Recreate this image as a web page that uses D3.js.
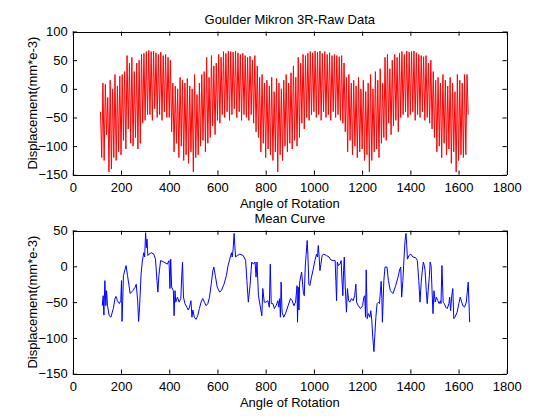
<!DOCTYPE html>
<html>
<head>
<meta charset="utf-8">
<script src="https://cdn.jsdelivr.net/npm/d3@7"></script>
<style>
html,body{margin:0;padding:0;background:#fff;}
svg{display:block;}
text{font-family:"Liberation Sans",Arial,Helvetica,sans-serif;font-size:13px;fill:#000;}
</style>
</head>
<body>
<svg id="fig" width="560" height="420"></svg>
<script>
// ---- Data ----
const xTicks = [0,200,400,600,800,1000,1200,1400,1600,1800];
const yTicksTop = [-150,-100,-50,0,50,100];
const yTicksBottom = [-150,-100,-50,0,50];

// Raw data: sampled every 5 degrees starting at 115
const rawStart = 115, rawStep = 5;
const rawValues = [
-40,-120,10,-125,8,-80,-15,-145,15,-140,0,-120,25,-125,5,-110,22,-115,25,-90,
30,-105,58,-70,45,-95,55,-100,30,-85,45,-105,50,-95,60,-60,62,-55,65,-45,
67,-45,65,-55,66,-35,63,-50,60,-45,64,-55,58,-40,60,-50,55,-50,50,-75,
10,-110,5,-95,0,-120,20,-100,15,-125,10,-115,18,-130,5,-110,0,-145,25,-120,
-10,-115,10,-100,25,-90,30,-110,55,-95,20,-85,58,-65,40,-80,45,-55,60,-60,
55,-45,65,-50,62,-40,66,-55,65,-45,64,-35,66,-50,63,-40,60,-55,62,-45,
58,-50,55,-55,57,-45,50,-60,58,-75,40,-85,20,-110,25,-95,10,-120,15,-105,
5,-115,20,-125,-5,-110,18,-145,10,-115,0,-125,15,-100,25,-110,10,-95,28,-105,
40,-90,20,-100,55,-85,45,-60,60,-70,58,-50,62,-55,65,-45,63,-40,66,-50,
64,-45,66,-55,62,-40,65,-50,60,-45,63,-55,58,-40,60,-50,58,-45,56,-55,
58,-60,45,-75,20,-110,25,-90,10,-115,15,-100,5,-120,20,-110,0,-105,15,-125,
-5,-115,10,-145,25,-125,0,-110,30,-105,15,-120,35,-95,10,-85,55,-90,60,-60,
35,-80,50,-65,60,-55,55,-75,62,-50,65,-45,60,-40,66,-50,64,-45,65,-40,
66,-55,63,-45,60,-50,58,-40,56,-55,58,-50,45,-60,50,-70,30,-85,15,-110,
20,-100,10,-120,25,-95,15,-115,5,-105,20,-130,10,-110,-5,-145,25,-125,15,-115,
10,-120,25,-115,25,-45
];

// Mean curve: angle / value pairs
const meanAngles = [
122,126,129,133,137,140,144,151,158,168,175,179,185,193,199,202,204,207,210,217,
221,227,238,249,259,263,269,273,277,283,288,294,298,302,305,308,311,316,325,336,
343,349,353,357,364,378,392,399,403,406,410,417,420,424,427,434,441,448,452,455,
459,465,473,479,484,490,494,498,504,511,518,525,532,539,546,553,560,567,574,581,
585,591,599,609,616,627,637,644,651,658,661,665,669,672,675,682,693,707,717,722,
728,735,742,749,756,760,764,770,777,784,788,794,801,809,815,819,823,830,836,843,
851,854,858,861,864,868,875,882,893,903,910,917,924,930,932,935,938,941,949,956,
960,964,968,972,975,979,983,990,997,1004,1011,1015,1018,1021,1025,1029,1034,1041,1052,1063,
1070,1080,1088,1091,1094,1097,1102,1108,1113,1117,1120,1123,1126,1130,1135,1139,1144,1149,1156,1163,
1169,1174,1177,1184,1193,1202,1207,1211,1214,1217,1221,1226,1232,1236,1240,1244,1249,1253,1257,1262,
1268,1272,1276,1279,1282,1284,1287,1290,1295,1303,1309,1317,1328,1339,1349,1356,1360,1364,1369,1374,
1378,1382,1385,1388,1394,1402,1411,1422,1429,1435,1440,1445,1450,1454,1458,1461,1466,1470,1475,1479,
1482,1486,1490,1494,1498,1503,1508,1514,1519,1525,1527,1531,1536,1541,1547,1553,1560,1563,1567,1571,
1576,1580,1585,1594,1601,1607,1613,1618,1625,1632,1636,1640,1643,1646
];
const meanValues = [
-55,-41,-68,-20,-55,-34,-55,-69,-71,-59,-45,-42,-48,-52,-48,-20,-77,-48,-13,-4,
1,-13,-38,-34,-29,-25,-48,-77,-57,-11,6,19,13,47,26,38,15,17,19,17,
10,-20,-36,-13,8,6,3,8,-31,10,-29,-34,-69,-34,-50,-43,-50,-45,-13,6,
-43,-52,-57,-61,-57,-48,-71,-61,-71,-74,-69,-59,-50,-45,-50,-55,-52,-43,-25,-6,
-1,-13,-29,-36,-34,-25,-13,1,10,19,13,24,46,29,13,15,17,15,8,-20,
-50,-27,6,3,6,-15,6,-41,-55,-69,-31,-50,-50,-48,-57,3,-52,-52,-59,-55,
-48,-57,-45,-71,-22,-64,-71,-66,-55,-45,-48,-55,-50,-27,-78,-29,-61,-22,-8,-36,
-41,-1,17,36,17,-25,-27,-15,-4,8,17,13,29,17,-6,3,15,17,15,13,
9,8,8,-20,-48,6,1,3,8,-22,-41,-6,13,-29,-64,-31,-48,-50,-45,-48,
-41,-25,-50,-55,-59,-55,-43,-41,-71,-5,-73,-66,-71,-62,-75,-99,-119,-94,-71,-52,
-50,-52,-34,-21,-45,-78,-50,-20,-1,-1,-20,-34,-38,-27,-15,-4,-1,-43,-20,13,
36,46,29,10,15,17,13,12,8,-20,-50,-22,-4,6,1,-6,-34,-52,-29,-13,
6,1,-34,-66,-34,-50,-43,-48,-52,-48,-52,1,-50,-52,-57,-59,-52,-43,-62,-43,
-31,-73,-71,-64,-52,-43,-50,-55,-57,-50,-36,-22,-50,-78
];

// ---- Layout ----
const W = 560, H = 420;
const L = 72.8, R = 506.8;
const panels = [
  {top:31.5, bottom:174.8, yDomain:[-150,100], yTicks:yTicksTop, title:"Goulder Mikron 3R-Raw Data", color:"#ff0000"},
  {top:230.5, bottom:373.8, yDomain:[-150,50], yTicks:yTicksBottom, title:"Mean Curve", color:"#0000ff"}
];

const svg = d3.select("#fig");
svg.append("rect").attr("width",W).attr("height",H).attr("fill","#fff");

const x = d3.scaleLinear().domain([0,1800]).range([L,R]);
const tl = 4.3;

const rawData = rawValues.map((v,i)=>({a: rawStart + i*rawStep, v}));
const meanData = meanAngles.map((a,i)=>({a, v: meanValues[i]}));

panels.forEach((p, idx) => {
  const y = d3.scaleLinear().domain(p.yDomain).range([p.bottom, p.top]);
  const g = svg.append("g");

  const data = idx === 0 ? rawData : meanData;
  const clipId = "clip"+idx;
  svg.append("clipPath").attr("id",clipId).append("rect")
    .attr("x",L).attr("y",p.top).attr("width",R-L).attr("height",p.bottom-p.top);
  g.append("path").datum(data)
    .attr("clip-path",`url(#${clipId})`)
    .attr("fill","none").attr("stroke",p.color).attr("stroke-width",1)
    .attr("stroke-linejoin","miter")
    .attr("d", d3.line().x(d=>x(d.a)).y(d=>y(d.v)));

  const styleAxis = sel => {
    sel.select(".domain").attr("stroke","#000").attr("stroke-width",1);
    sel.selectAll(".tick line").attr("stroke","#000").attr("stroke-width",1);
    sel.selectAll("text").attr("font-size",13).attr("font-family",'"Liberation Sans",Arial,sans-serif').attr("fill","#000");
  };
  g.append("g").attr("transform",`translate(0,${p.bottom})`)
    .call(d3.axisBottom(x).tickValues(xTicks).tickSizeInner(-tl).tickSizeOuter(0).tickPadding(7.5).tickFormat(d3.format("d")))
    .call(styleAxis);
  g.append("g").attr("transform",`translate(0,${p.top})`)
    .call(d3.axisTop(x).tickValues(xTicks).tickSizeInner(-tl).tickSizeOuter(0).tickFormat(""))
    .call(styleAxis);
  g.append("g").attr("transform",`translate(${L},0)`)
    .call(d3.axisLeft(y).tickValues(p.yTicks).tickSizeInner(-tl).tickSizeOuter(0).tickPadding(5).tickFormat(d3.format("d")))
    .call(styleAxis);
  g.append("g").attr("transform",`translate(${R},0)`)
    .call(d3.axisRight(y).tickValues(p.yTicks).tickSizeInner(-tl).tickSizeOuter(0).tickFormat(""))
    .call(styleAxis);
  g.selectAll(".domain").attr("shape-rendering","crispEdges");

  g.append("text").attr("x",(L+R)/2).attr("y",p.top - 7.5).attr("text-anchor","middle").text(p.title);
  g.append("text").attr("x",(L+R)/2).attr("y",p.bottom + 33).attr("text-anchor","middle").text("Angle of Rotation");
  g.append("text").attr("transform",`translate(37,${(p.top+p.bottom)/2}) rotate(-90)`)
    .attr("text-anchor","middle").text("Displacement(mm*e-3)");
});
</script>
</body>
</html>
